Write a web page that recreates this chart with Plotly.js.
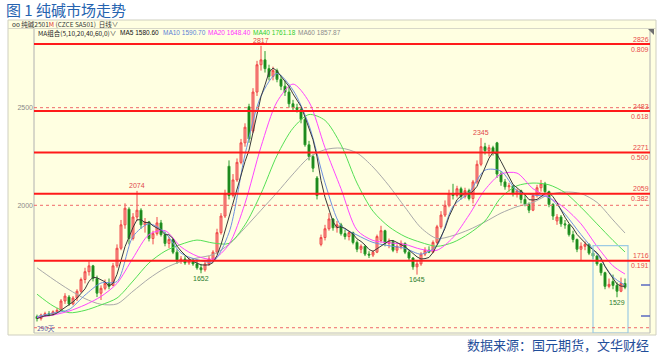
<!DOCTYPE html>
<html><head><meta charset="utf-8">
<script src="https://cdn.plot.ly/plotly-3.0.1.min.js"></script>
<style>html,body{margin:0;padding:0;background:#fff;}#chart{width:660px;height:354px;}</style>
</head><body><div id="chart"></div>
<script>
// ---- data ----
const opens = [1430,1420,1438,1445,1440,1455,1462,1510,1530,1495,1525,1560,1620,1660,1690,1625,1550,1575,1600,1590,
1690,1780,1900,1980,1830,1940,1975,1900,1915,1830,1855,1910,1850,1805,1825,1760,1715,1725,1705,1720,
1700,1680,1670,1700,1725,1760,1860,1945,2200,2050,2130,2220,2320,2505,2380,2580,2720,2745,2700,2660,
2690,2645,2610,2580,2520,2500,2490,2440,2310,2250,2140,1800,1835,1880,1930,1885,1900,1855,1840,1860,
1810,1775,1790,1750,1745,1760,1820,1870,1805,1815,1770,1790,1805,1760,1730,1685,1700,1750,1770,1760,
1810,1890,1950,2000,2060,2050,2085,2045,2075,2035,2120,2210,2300,2280,2295,2320,2160,2120,2095,2100,
2060,2075,2030,2005,1975,2050,2090,2110,2070,2005,1920,1940,1905,1900,1850,1825,1775,1790,1800,1755,
1740,1700,1655,1585,1610,1590,1560,1600];
const highs = [1440,1445,1455,1458,1462,1475,1520,1550,1540,1535,1570,1630,1680,1712,1695,1640,1590,1620,1625,1705,
1800,1925,2010,1990,1960,2074,1985,1935,1920,1870,1940,1925,1865,1840,1830,1775,1740,1740,1735,1730,
1715,1700,1710,1740,1770,1880,1960,2080,2230,2160,2240,2340,2420,2520,2600,2740,2817,2790,2720,2710,
2700,2665,2640,2610,2540,2520,2500,2450,2330,2260,2150,1850,1900,1960,1935,1920,1910,1875,1870,1865,
1820,1800,1795,1765,1770,1850,1895,1875,1830,1820,1800,1820,1810,1770,1735,1720,1760,1785,1790,1820,
1900,1970,2025,2080,2110,2100,2095,2090,2085,2130,2230,2345,2320,2310,2305,2325,2175,2135,2115,2105,
2085,2080,2060,2015,2060,2105,2130,2120,2075,2010,1955,1950,1925,1905,1870,1830,1810,1815,1805,1775,
1745,1705,1660,1625,1645,1605,1630,1625];
const lows = [1405,1410,1428,1432,1435,1448,1458,1495,1485,1488,1510,1552,1600,1640,1610,1530,1515,1565,1570,1585,
1680,1770,1880,1800,1820,1920,1880,1860,1815,1800,1845,1840,1790,1780,1750,1700,1700,1695,1695,1690,
1670,1652,1660,1690,1715,1750,1850,1935,2030,2040,2120,2210,2300,2320,2370,2560,2690,2680,2640,2640,
2630,2590,2560,2500,2480,2475,2420,2300,2230,2170,2030,1790,1820,1870,1870,1860,1845,1825,1820,1800,
1760,1755,1740,1730,1735,1755,1810,1790,1780,1760,1755,1775,1750,1720,1670,1645,1690,1740,1755,1755,
1800,1880,1940,1990,2030,2040,2030,2035,2025,2010,2110,2200,2260,2250,2255,2140,2100,2080,2070,2045,
2040,2010,1995,1960,1970,2040,2070,2060,1990,1925,1900,1890,1880,1840,1810,1760,1720,1770,1745,1725,
1690,1640,1570,1575,1570,1529,1555,1570];
const closes = [1420,1438,1445,1440,1455,1462,1510,1535,1495,1525,1560,1620,1660,1690,1625,1550,1575,1600,1585,1690,
1780,1900,1985,1830,1940,1975,1900,1915,1830,1855,1910,1850,1805,1825,1760,1715,1725,1705,1720,1700,
1680,1670,1700,1725,1760,1860,1945,2060,2050,2130,2220,2320,2400,2340,2580,2720,2745,2700,2660,2690,
2645,2610,2580,2520,2500,2490,2440,2310,2250,2190,2050,1835,1880,1930,1885,1900,1855,1840,1860,1810,
1775,1790,1750,1745,1760,1840,1870,1805,1815,1770,1790,1805,1760,1730,1685,1700,1750,1770,1760,1810,
1890,1950,2000,2060,2050,2085,2045,2075,2035,2120,2210,2300,2280,2295,2270,2160,2120,2095,2100,2060,
2075,2030,2005,1975,2050,2090,2110,2070,2005,1945,1940,1905,1900,1850,1825,1775,1790,1800,1755,1740,
1700,1655,1585,1595,1590,1560,1600,1580];
const barIndex = closes.map((_, i) => i);

// moving-average lines at these bar positions
const maIndex = [0,4,8,12,16,20,24,28,32,36,40,44,48,52,56,60,64,68,72,76,80,84,88,92,96,100,104,108,112,116,120,124,128,132,136,140,144,147];
const ma10 = [1430,1448,1466,1540,1602,1610,1840,1905,1860,1755,1722,1712,1860,2260,2560,2675,2590,2410,2115,1895,1848,1810,1793,1780,1750,1795,1995,2065,2180,2175,2075,2053,2040,1955,1850,1750,1633,1591];
const ma20 = [1425,1438,1458,1490,1533,1600,1730,1850,1870,1787,1740,1725,1800,2010,2300,2530,2621,2530,2295,2085,1873,1820,1808,1800,1775,1770,1835,1950,2080,2160,2165,2085,2040,1985,1905,1790,1690,1648];
const ma40 = [1545,1485,1450,1462,1490,1525,1612,1705,1765,1800,1822,1807,1805,1900,2060,2255,2395,2465,2435,2310,2114,1970,1890,1840,1810,1790,1810,1855,1920,2040,2100,2114,2105,2065,1990,1905,1820,1761];
const ma60 = [1680,1622,1568,1522,1493,1495,1560,1625,1678,1712,1730,1748,1800,1885,1975,2065,2160,2245,2285,2293,2268,2196,2100,1990,1885,1830,1845,1875,1915,1960,1993,2015,2055,2068,2060,2015,1925,1858];

const maNames = ['MA5','MA10','MA20','MA40','MA60'];
const maLast = ['1580.60','1590.70','1648.40','1761.18','1857.87'];

const fibLevels = [2826,2483,2271,2059,1716];
const fibRatios = ['0.809','0.618','0.500','0.382','0.191'];
const dashLevels = [2500,2000,1373];
const yTickVals = [2000,2500];
const yTickText = ['2000','2500'];
const highMarkIdx = [25,56,111];
const highMarkVal = [2074,2817,2345];
const lowMarkIdx = [41,95,145];
const lowMarkVal = [1652,1645,1529];

// ---- layout helpers (pixel -> paper) ----
const L = 34, R = 10, T = 29, B = 21, W = 660, H = 354;
const PW = W - L - R, PH = H - T - B;
const px = v => (v - L) / PW;
const py = v => (H - B - v) / PH;

const ma5 = closes.map((c, i) => {
  const s = closes.slice(Math.max(0, i - 4), i + 1);
  return s.reduce((a, b) => a + b, 0) / s.length;
});

const traces = [
  {type:'candlestick', x:barIndex, open:opens, high:highs, low:lows, close:closes,
   increasing:{line:{color:'#f04848', width:1}, fillcolor:'#f7a29a'},
   decreasing:{line:{color:'#2a9a2a', width:1}, fillcolor:'#0d760d'},
   whiskerwidth:0, hoverinfo:'skip', showlegend:false},
  {type:'scatter', mode:'lines', x:maIndex, y:ma60, line:{color:'#a9a9a9', width:1, shape:'spline', smoothing:0.8}, hoverinfo:'skip'},
  {type:'scatter', mode:'lines', x:maIndex, y:ma40, line:{color:'#55e055', width:1, shape:'spline', smoothing:0.8}, hoverinfo:'skip'},
  {type:'scatter', mode:'lines', x:maIndex, y:ma20, line:{color:'#ff44ff', width:1, shape:'spline', smoothing:0.8}, hoverinfo:'skip'},
  {type:'scatter', mode:'lines', x:maIndex, y:ma10, line:{color:'#6f90e0', width:1, shape:'spline', smoothing:0.8}, hoverinfo:'skip'},
  {type:'scatter', mode:'lines', x:barIndex, y:ma5, line:{color:'#3a3a3a', width:1}, hoverinfo:'skip'}
];

const shapes = [
  {type:'rect', xref:'paper', yref:'paper', x0:px(8), x1:px(656), y0:py(335), y1:py(20), fillcolor:'#ffffe1', line:{color:'#cfcfc0', width:1}, layer:'below'},
  {type:'line', xref:'paper', yref:'paper', x0:px(8), x1:px(656), y0:py(28.5), y1:py(28.5), line:{color:'#d8d8c8', width:1}},
  {type:'line', xref:'paper', yref:'paper', x0:0, x1:0, y0:0, y1:py(29), line:{color:'#b0b0b0', width:1}},
  {type:'line', xref:'paper', yref:'paper', x0:px(650), x1:px(650), y0:0, y1:py(29), line:{color:'#b0b0b0', width:1}},
  {type:'line', xref:'paper', yref:'paper', x0:0, x1:px(650), y0:0, y1:0, line:{color:'#c0c0c0', width:1}},
  {type:'rect', xref:'x', yref:'y', x0:139, x1:147.75, y0:1346, y1:1794, line:{color:'#9ccbe4', width:1.2}, fillcolor:'rgba(0,0,0,0)'},
  {type:'line', xref:'paper', yref:'paper', x0:px(641), x1:px(650), y0:py(285), y1:py(285), line:{color:'#5a6ac0', width:1.5}},
  {type:'line', xref:'paper', yref:'paper', x0:px(641), x1:px(650), y0:py(316), y1:py(316), line:{color:'#5a6ac0', width:1.5}},
  {type:'path', xref:'paper', yref:'paper', path:`M ${px(648)} ${py(29)} L ${px(654)} ${py(29)} L ${px(654)} ${py(35)} Z`, fillcolor:'#707070', line:{width:0}}
];
dashLevels.forEach(v => shapes.push({type:'line', xref:'paper', yref:'y', x0:0, x1:px(650), y0:v, y1:v, line:{color:'#f06a6a', width:1, dash:'dot'}}));
fibLevels.forEach(v => shapes.push({type:'line', xref:'paper', yref:'y', x0:0, x1:px(650), y0:v, y1:v, line:{color:'#ff1a1a', width:2}}));

const smallFont = (c, s) => ({family:'Liberation Sans, Arial, sans-serif', size:s || 7, color:c});
const annotations = [];
fibLevels.forEach((v, i) => {
  annotations.push({xref:'paper', yref:'y', x:px(651), y:v, yshift:5, xanchor:'right', yanchor:'middle', text:String(v), showarrow:false, font:smallFont('#e84a4a')});
  annotations.push({xref:'paper', yref:'y', x:px(651), y:v, yshift:-5, xanchor:'right', yanchor:'middle', text:fibRatios[i], showarrow:false, font:smallFont('#e84a4a')});
});
highMarkIdx.forEach((ix, i) => annotations.push({xref:'x', yref:'y', x:ix, y:highMarkVal[i], yshift:5.5, xanchor:'center', yanchor:'middle', text:String(highMarkVal[i]), showarrow:false, font:smallFont('#e04848', 7)}));
lowMarkIdx.forEach((ix, i) => annotations.push({xref:'x', yref:'y', x:ix, y:lowMarkVal[i], yshift:-5, xanchor:'center', yanchor:'middle', text:String(lowMarkVal[i]), showarrow:false, font:smallFont('#2d7d2d', 7)}));

const cjk = 'Noto Sans CJK SC, sans-serif';
annotations.push({xref:'paper', yref:'paper', x:px(10), y:py(24), xanchor:'left', yanchor:'middle', showarrow:false,
  text:'oo 纯碱2501<span style="color:#e03030">M</span> (CZCE SA501)  日线∨', font:{family:cjk, size:6.5, color:'#333333'}});
annotations.push({xref:'paper', yref:'paper', x:px(36), y:py(32.5), xanchor:'left', yanchor:'middle', showarrow:false,
  text:'MA组合(5,10,20,40,60,0)∨', font:{family:cjk, size:6.5, color:'#222222'}});
const maColors = ['#111111','#5b7fd6','#ff33ff','#2fcf2f','#8c8c8c'];
const maX = [118, 161, 206, 251, 296];
maNames.forEach((n, i) => annotations.push({xref:'paper', yref:'paper', x:px(maX[i]), y:py(32.5), xanchor:'left', yanchor:'middle', showarrow:false,
  text:n + ' ' + maLast[i], font:smallFont(maColors[i], 6.5)}));
annotations.push({xref:'paper', yref:'paper', x:px(35), y:py(328), xanchor:'left', yanchor:'middle', showarrow:false,
  text:'290天', font:{family:cjk, size:6.5, color:'#5a5aa8'}});
annotations.push({xref:'paper', yref:'paper', x:px(651), y:py(344.5), xanchor:'right', yanchor:'middle', showarrow:false,
  text:'数据来源：国元期货，文华财经', font:{family:cjk, size:13, color:'#1f4e9a'}});

const layout = {
  width:W, height:H,
  margin:{l:L, r:R, t:T, b:B, pad:0},
  paper_bgcolor:'#ffffff', plot_bgcolor:'rgba(0,0,0,0)',
  showlegend:false, hovermode:false,
  title:{text:'图 1 纯碱市场走势', x:6/W, xref:'container', xanchor:'left', y:1 - 11/H, yref:'container', yanchor:'middle',
         font:{family:cjk, size:15, color:'#2563b0'}},
  xaxis:{range:[-0.75, 153.25], visible:false, rangeslider:{visible:false}, fixedrange:true},
  yaxis:{range:[1346, 2903], tickvals:yTickVals, ticktext:yTickText, showgrid:false, zeroline:false, showline:false,
         ticks:'', tickfont:smallFont('#8a8a8a', 7), fixedrange:true},
  shapes:shapes, annotations:annotations
};
Plotly.newPlot('chart', traces, layout, {displayModeBar:false, staticPlot:true});
</script></body></html>
